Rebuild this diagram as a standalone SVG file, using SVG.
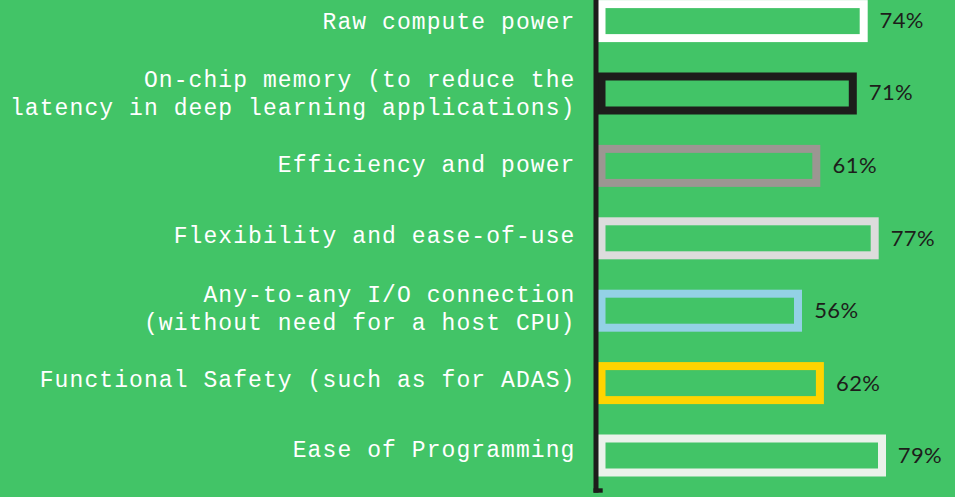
<svg xmlns="http://www.w3.org/2000/svg" width="955" height="497" viewBox="0 0 955 497">
  <style>
    .bg { fill: #42c467; }
    .bar { fill: none; stroke-width: 8; }
    .lbl { font-family: "Liberation Mono", "DejaVu Sans Mono", monospace; font-size: 23px; letter-spacing: 1.08px; fill: #ffffff; text-anchor: end; }
    .pct { font-family: Lato, "Liberation Sans", sans-serif; font-size: 22px; letter-spacing: 0.4px; fill: #1d1d1b; }
    .axis { fill: #1d1d1b; }
  </style>
  <rect class="bg" x="0" y="0" width="955" height="497"/>

  <g id="bar-raw-compute">
    <rect class="bar" x="601.5" y="4.1" width="262.2" height="34" stroke="#ffffff"/>
    <text class="lbl" x="575.5" y="29.3">Raw compute power</text>
    <text class="pct" x="879.5" y="28.3">74%</text>
  </g>

  <g id="bar-onchip-memory">
    <rect class="bar" x="601.5" y="76.5" width="251.3" height="34" stroke="#1d1d1b"/>
    <text class="lbl" x="575.5" y="87.3">On-chip memory (to reduce the</text>
    <text class="lbl" x="575.5" y="115.3">latency in deep learning applications)</text>
    <text class="pct" x="868.8" y="100.2">71%</text>
  </g>

  <g id="bar-efficiency">
    <rect class="bar" x="601.5" y="148.9" width="214.8" height="34" stroke="#9c9692"/>
    <text class="lbl" x="575.5" y="171.7">Efficiency and power</text>
    <text class="pct" x="832.6" y="172.7">61%</text>
  </g>

  <g id="bar-flexibility">
    <rect class="bar" x="601.5" y="221.3" width="273.2" height="34" stroke="#dcdcdc"/>
    <text class="lbl" x="575.5" y="243.3">Flexibility and ease-of-use</text>
    <text class="pct" x="890.7" y="246">77%</text>
  </g>

  <g id="bar-io-connection">
    <rect class="bar" x="601.5" y="293.7" width="196.5" height="34" stroke="#93d1e5"/>
    <text class="lbl" x="575.5" y="302.3">Any-to-any I/O connection</text>
    <text class="lbl" x="575.5" y="330.3">(without need for a host CPU)</text>
    <text class="pct" x="814.2" y="317.7">56%</text>
  </g>

  <g id="bar-functional-safety">
    <rect class="bar" x="601.5" y="366.1" width="218.4" height="34" stroke="#ffd400"/>
    <text class="lbl" x="575.5" y="386.7">Functional Safety (such as for ADAS)</text>
    <text class="pct" x="836" y="390.7">62%</text>
  </g>

  <g id="bar-ease-programming">
    <rect class="bar" x="601.5" y="438.5" width="280.5" height="34" stroke="#eaf2ea"/>
    <text class="lbl" x="575.5" y="456.7">Ease of Programming</text>
    <text class="pct" x="897.8" y="462.7">79%</text>
  </g>

  <g id="axis">
    <rect class="axis" x="593.5" y="0" width="5" height="492.7"/>
    <rect class="axis" x="593.5" y="488.3" width="9.2" height="4.4"/>
  </g>
</svg>
